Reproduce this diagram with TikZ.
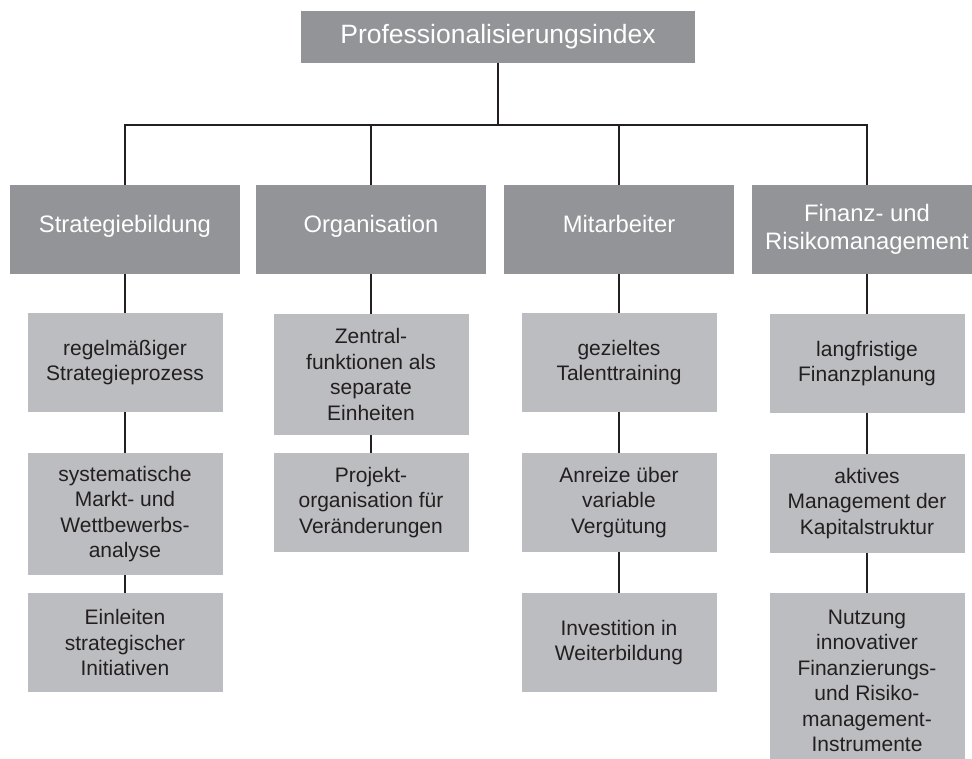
\documentclass[tikz,border=0pt]{standalone}
\usepackage{fontspec}
\setmainfont{Liberation Sans}
\definecolor{darkbox}{HTML}{939497}
\definecolor{lightbox}{HTML}{BCBDC0}
\definecolor{ink}{HTML}{231F20}
\tikzset{
  topbox/.style={rectangle, fill=darkbox, text=white, inner sep=0pt, minimum width=394pt, minimum height=52pt, font=\fontsize{26.5}{30}\selectfont},
  catbox/.style={rectangle, fill=darkbox, text=white, inner sep=0pt, minimum width=230pt, minimum height=89pt, align=center, font=\fontsize{23.8}{28}\selectfont},
  oneline/.style={text height=14pt, text depth=7pt},
  itembox/.style={rectangle, fill=lightbox, text=ink, inner sep=0pt, minimum width=195pt, minimum height=99pt, align=center, font=\fontsize{21}{25.5}\selectfont},
  conn/.style={draw=ink, line width=1.8pt}
}
\begin{document}
\begin{tikzpicture}[x=1pt, y=-1pt]
\clip (0,0) rectangle (972,759);
\fill[white] (0,0) rectangle (972,759);
\node[topbox] (top) at (498,37) {Professionalisierungsindex};
\coordinate (bus) at (0,125);
\node[catbox, oneline] (l1) at (125,229.5) {Strategiebildung};
\node[catbox, oneline] (l2) at (371,229.5) {Organisation};
\node[catbox, oneline] (l3) at (619,229.5) {Mitarbeiter};
\node[catbox] (l4) at (867,229.5) {Finanz- und\\Risikomanagement};
% column 1
\node[itembox] (a1) at (125,362.5) {regelmäßiger\\Strategieprozess};
\node[itembox, minimum height=122pt] (a2) at (125,514) {systematische\\Markt- und\\Wettbewerbs-\\analyse};
\node[itembox] (a3) at (125,642.5) {Einleiten\\strategischer\\Initiativen};
% column 2
\node[itembox, minimum height=121pt] (b1) at (371,374.5) {Zentral-\\funktionen als\\separate\\Einheiten};
\node[itembox] (b2) at (371,502.5) {Projekt-\\organisation für\\Veränderungen};
% column 3
\node[itembox] (c1) at (619,362.5) {gezieltes\\Talenttraining};
\node[itembox] (c2) at (619,502.5) {Anreize über\\variable\\Vergütung};
\node[itembox] (c3) at (619,642.5) {Investition in\\Weiterbildung};
% column 4
\node[itembox] (d1) at (867,363.5) {langfristige\\Finanzplanung};
\node[itembox] (d2) at (867,503.5) {aktives\\Management der\\Kapitalstruktur};
\node[itembox, minimum height=176pt] (d3) at (867,681) {Nutzung\\innovativer\\Finanzierungs-\\und Risiko-\\management-\\Instrumente};
% connectors
\draw[conn] (top.south) -- (top.south |- bus);
\draw[conn] (l1.north) -- (l1.north |- bus) -| (l4.north);
\draw[conn] (l2.north) -- (l2.north |- bus);
\draw[conn] (l3.north) -- (l3.north |- bus);
\draw[conn] (l1.south) -- (a1.north);
\draw[conn] (a1.south) -- (a2.north);
\draw[conn] (a2.south) -- (a3.north);
\draw[conn] (l2.south) -- (b1.north);
\draw[conn] (b1.south) -- (b2.north);
\draw[conn] (l3.south) -- (c1.north);
\draw[conn] (c1.south) -- (c2.north);
\draw[conn] (c2.south) -- (c3.north);
\draw[conn] (l4.south) -- (d1.north);
\draw[conn] (d1.south) -- (d2.north);
\draw[conn] (d2.south) -- (d3.north);
\end{tikzpicture}
\end{document}
